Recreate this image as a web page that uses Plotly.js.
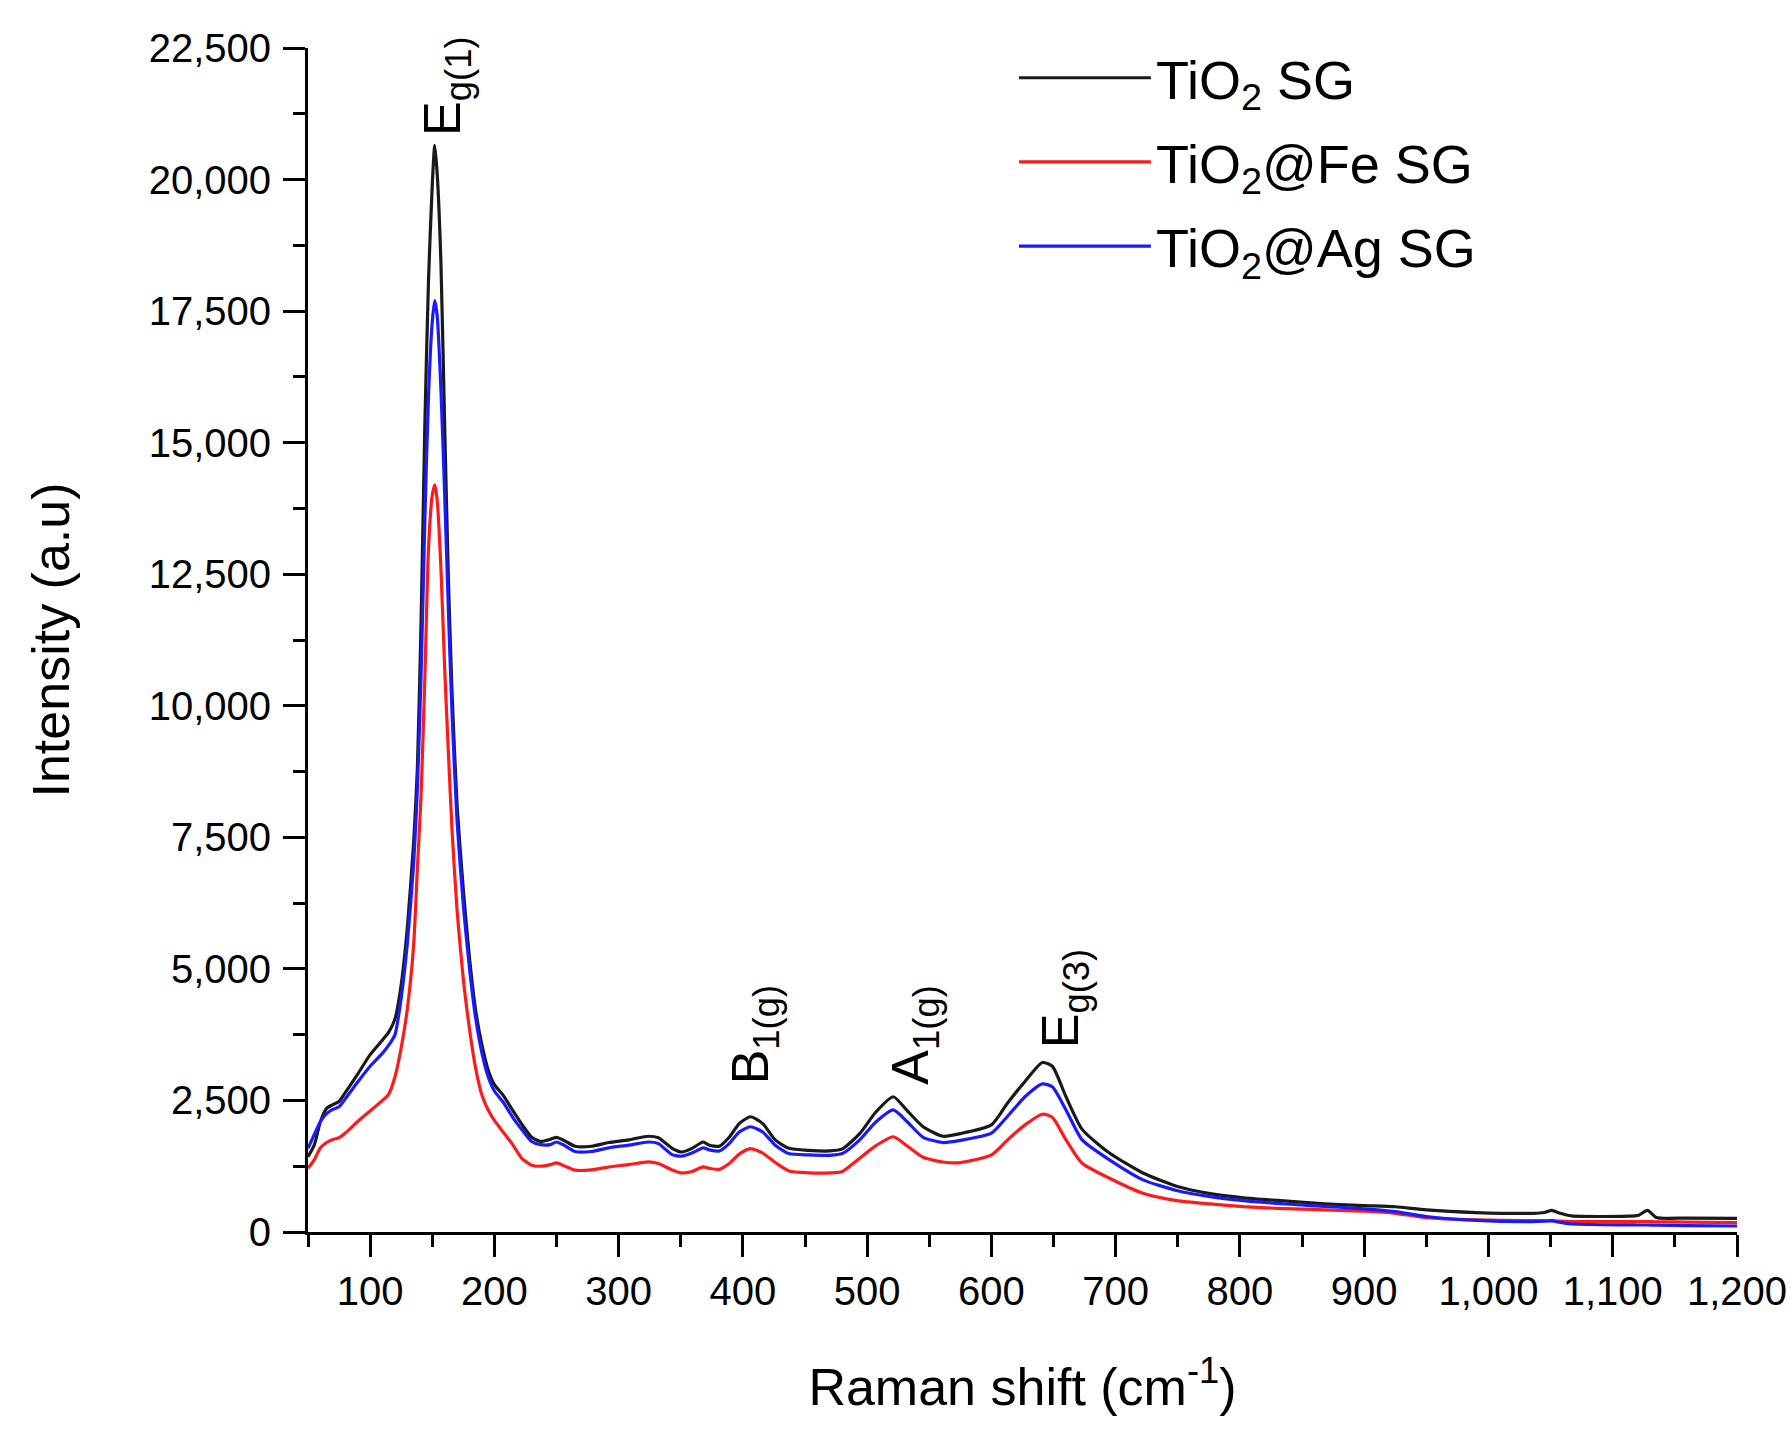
<!DOCTYPE html>
<html>
<head>
<meta charset="utf-8">
<script src="https://cdn.plot.ly/plotly-3.0.1.min.js"></script>
<style>
  html, body { margin: 0; padding: 0; background: #fff; }
  #chart { width: 1792px; height: 1440px; }
</style>
</head>
<body>
<div id="chart"></div>
<script>
// Raman shift (cm-1), shared by all three spectra
var shift = [50, 55, 60, 65, 70, 75, 80, 90, 100, 110, 115, 120, 125, 130, 135, 138, 141, 144, 147, 150,
  152, 154, 157, 160, 163, 166, 170, 175, 180, 185, 190, 195, 200, 207, 215, 222, 230, 237, 245, 250,
  256, 265, 278, 292, 308, 324, 332, 343, 351, 359, 368, 373, 381, 389, 397, 406, 416, 426, 437, 453,
  470, 480, 494, 507, 521, 532, 545, 561, 575, 600, 613, 627, 641, 649, 660, 673, 695, 722, 749, 776,
  803, 830, 857, 880, 900, 925, 950, 990, 1035, 1045, 1051, 1057, 1067, 1112, 1121, 1128, 1135, 1160, 1200];

var tio2 = [1430, 1650, 2100, 2350, 2420, 2480, 2650, 3000, 3370, 3650, 3800, 4050, 4700, 5800, 7400, 8800, 11600, 15300, 18100, 19900,
  20650, 20100, 18400, 15300, 12400, 10200, 8100, 6500, 5200, 4200, 3550, 3080, 2800, 2600, 2300, 2050, 1800, 1720, 1760, 1800,
  1740, 1630, 1630, 1700, 1750, 1820, 1790, 1590, 1520, 1590, 1710, 1650, 1630, 1800, 2060, 2190, 2060, 1750, 1590, 1550,
  1540, 1580, 1870, 2280, 2570, 2310, 2000, 1820, 1870, 2035, 2450, 2860, 3220, 3150, 2570, 1950, 1500, 1120, 870, 730,
  650, 600, 555, 520, 500, 480, 420, 370, 355, 370, 410, 360, 305, 300, 320, 410, 275, 265, 260];

var tio2Fe = [1210, 1370, 1600, 1700, 1760, 1790, 1880, 2100, 2300, 2500, 2620, 2950, 3500, 4250, 5450, 6900, 8300, 10500, 13000, 14000,
  14200, 13900, 12600, 10700, 9100, 7600, 6100, 4800, 3850, 3100, 2600, 2320, 2120, 1900, 1650, 1400, 1270, 1250, 1280, 1312,
  1260, 1175, 1180, 1236, 1280, 1331, 1300, 1180, 1122, 1150, 1236, 1210, 1190, 1300, 1480, 1585, 1500, 1320, 1160, 1125,
  1122, 1150, 1400, 1640, 1810, 1640, 1420, 1330, 1319, 1464, 1750, 2035, 2238, 2181, 1750, 1306, 1021, 735, 596, 533,
  482, 450, 431, 410, 395, 355, 272, 230, 216, 214, 212, 205, 200, 197, 197, 197, 195, 188, 178];

var tio2Ag = [1590, 1850, 2100, 2250, 2330, 2380, 2530, 2850, 3150, 3400, 3550, 3750, 4450, 5500, 7000, 8400, 10600, 13500, 15900, 17300,
  17700, 17400, 16000, 14000, 11800, 9800, 7800, 6200, 5000, 4050, 3400, 2950, 2680, 2470, 2170, 1950, 1720, 1660, 1660, 1710,
  1650, 1530, 1530, 1600, 1650, 1710, 1680, 1470, 1440, 1500, 1600, 1560, 1540, 1680, 1900, 2000, 1900, 1650, 1490, 1465,
  1458, 1490, 1750, 2090, 2320, 2100, 1800, 1700, 1740, 1877, 2200, 2570, 2815, 2760, 2320, 1750, 1370, 990, 790, 672,
  596, 545, 501, 470, 440, 387, 295, 220, 197, 205, 216, 185, 152, 135, 133, 133, 130, 122, 114];

var seriesNames = ['TiO<sub>2</sub> SG', 'TiO<sub>2</sub>@Fe SG', 'TiO<sub>2</sub>@Ag SG'];
var seriesColors = ['#1a1a1a', '#ff1a1a', '#1a1aff'];

// band labels: text, shift, intensity just under the label
var bandText = ['E<sub>g(1)</sub>', 'B<sub>1(g)</sub>', 'A<sub>1(g)</sub>', 'E<sub>g(3)</sub>'];
var bandShift = [161, 409, 538, 659];
var bandLevel = [20800, 2760, 2760, 3460];

var FONT = 'Liberation Sans, Arial, sans-serif';

var data = [tio2, tio2Fe, tio2Ag].map(function (ys, i) {
    return {
        x: shift,
        y: ys,
        name: seriesNames[i],
        legendgroup: 'g' + i,
        type: 'scatter',
        mode: 'lines',
        line: {color: seriesColors[i], width: 3.2, shape: 'spline', smoothing: 0.6}
    };
});

var annotations = bandText.map(function (t, i) {
    return {
        x: bandShift[i], y: bandLevel[i], xref: 'x', yref: 'y',
        text: t, textangle: -90, showarrow: false,
        xanchor: 'center', yanchor: 'bottom',
        font: {family: FONT, size: 52, color: '#000'}
    };
});

var axisCommon = {
    showline: true, linewidth: 3, linecolor: '#000',
    ticks: 'outside', ticklen: 22, tickwidth: 3, tickcolor: '#000',
    showgrid: false, zeroline: false,
    tickformat: ',',
    tickfont: {family: FONT, size: 40, color: '#000'}
};

var layout = {
    width: 1792, height: 1440,
    margin: {l: 308, r: 55, t: 48, b: 208},
    paper_bgcolor: '#fff', plot_bgcolor: '#fff',
    showlegend: true,
    legend: {
        x: 0.494, y: 1.01, xanchor: 'left', yanchor: 'top',
        itemwidth: 132,
        traceorder: 'grouped',
        tracegroupgap: 11,
        font: {family: FONT, size: 54, color: '#000'},
        bgcolor: 'rgba(0,0,0,0)'
    },
    xaxis: Object.assign({}, axisCommon, {
        range: [50, 1200], tick0: 0, dtick: 100,
        minor: {dtick: 50, ticks: 'outside', ticklen: 12, tickwidth: 3, tickcolor: '#000', showgrid: false},
        title: {text: 'Raman shift (cm<sup>-1</sup>)', font: {family: FONT, size: 52, color: '#000'}, standoff: 57}
    }),
    yaxis: Object.assign({}, axisCommon, {
        range: [0, 22500], tick0: 0, dtick: 2500,
        ticklabelstandoff: 4,
        minor: {dtick: 1250, ticks: 'outside', ticklen: 12, tickwidth: 3, tickcolor: '#000', showgrid: false},
        title: {text: 'Intensity (a.u)', font: {family: FONT, size: 52, color: '#000'}, standoff: 63}
    }),
    annotations: annotations
};

Plotly.newPlot('chart', data, layout, {displayModeBar: false, staticPlot: true});
</script>
</body>
</html>
